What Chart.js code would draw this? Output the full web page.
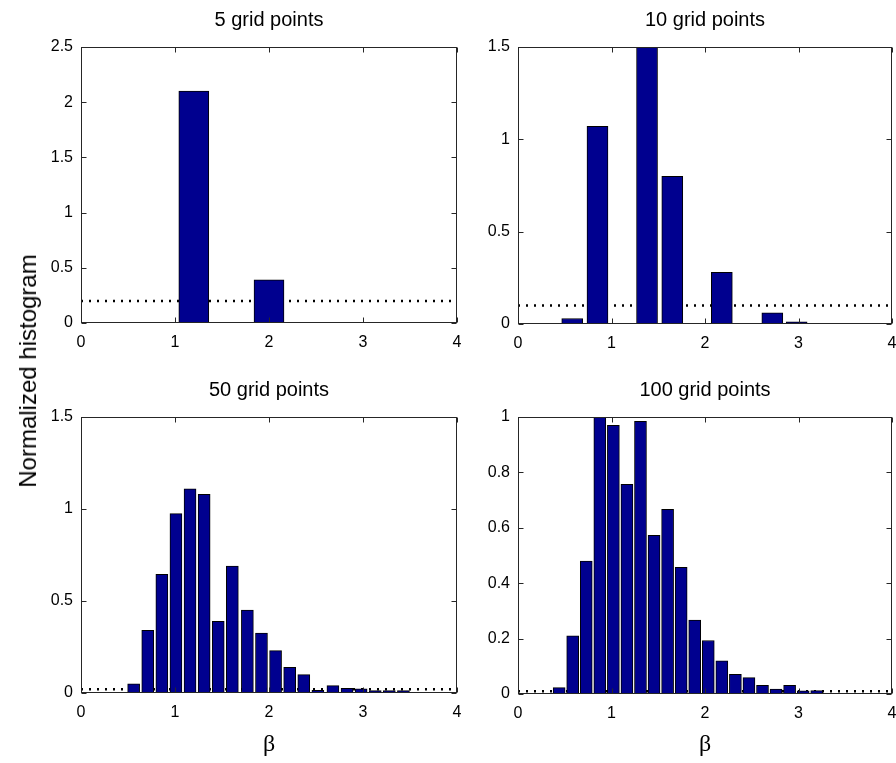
<!DOCTYPE html>
<html>
<head>
<meta charset="utf-8">
<script src="https://cdn.jsdelivr.net/npm/chart.js@4.4.1/dist/chart.umd.min.js"></script>
<style>
  html, body { margin: 0; padding: 0; background: #fff; overflow: hidden; }
  body { width: 896px; height: 763px; position: relative; }
  canvas { position: absolute; }
  #ylabel {
    position: absolute; left: 28px; top: 371px;
    transform: translate(-50%, -50%) rotate(-90deg);
    font: 24px "Liberation Sans", Arial, sans-serif; white-space: nowrap; color: #000;
  }
</style>
</head>
<body>
<canvas id="p1" width="475" height="360" style="left:0;top:0"></canvas>
<canvas id="p2" width="470" height="360" style="left:440px;top:0"></canvas>
<canvas id="p3" width="475" height="393" style="left:0;top:370px"></canvas>
<canvas id="p4" width="470" height="393" style="left:440px;top:370px"></canvas>
<div id="ylabel">Normalized histogram</div>
<script>
// histogram data
const gridSizes = [5, 10, 50, 100];
const priorLevels = [0.2, 0.1, 0.02, 0.01];   // dotted line = uniform 1/N
const betaTicks = [0, 1, 2, 3, 4];
const yMax = [2.5, 1.5, 1.5, 1];
const yStep = [0.5, 0.5, 0.5, 0.2];

const centers5 = [1.2, 2.0, 2.8];
const hist5 = [2.1, 0.39, 0.005];

const centers10 = [0.58, 0.85, 1.38, 1.65, 2.18, 2.72, 2.98];
const hist10 = [0.03, 1.07, 1.5, 0.80, 0.28, 0.06, 0.012];

const centers50 = [0.56, 0.71, 0.86, 1.01, 1.16, 1.31, 1.46, 1.61, 1.77, 1.92,
                   2.07, 2.22, 2.37, 2.52, 2.68, 2.83, 2.98, 3.13, 3.28, 3.43];
const hist50 = [0.05, 0.34, 0.645, 0.975, 1.11, 1.08, 0.39, 0.69, 0.45, 0.325,
                0.23, 0.14, 0.1, 0.015, 0.04, 0.025, 0.022, 0.013, 0.013, 0.013];

const centers100 = [0.44, 0.585, 0.73, 0.875, 1.02, 1.165, 1.31, 1.455, 1.6, 1.745,
                    1.89, 2.035, 2.18, 2.325, 2.47, 2.615, 2.76, 2.905, 3.05, 3.195];
const hist100 = [0.023, 0.21, 0.48, 1.0, 0.97, 0.757, 0.984, 0.573, 0.667, 0.457,
                 0.267, 0.193, 0.12, 0.071, 0.059, 0.031, 0.018, 0.031, 0.011, 0.012];

Chart.defaults.font.family = '"Liberation Sans", Arial, sans-serif';
Chart.defaults.font.size = 16;
Chart.defaults.color = '#000';

// matlab-like box with inward ticks on all four sides
const boxPlugin = {
  id: 'box',
  afterDatasetsDraw(chart) {
    const { ctx, chartArea: a, scales } = chart;
    const L = Math.round(a.left) + 0.5, R = Math.round(a.right) - 0.5;
    const T = Math.round(a.top) + 0.5, B = Math.round(a.bottom) - 0.5;
    ctx.save();
    ctx.strokeStyle = '#262626';
    ctx.lineWidth = 1;
    ctx.strokeRect(L, T, R - L, B - T);
    ctx.beginPath();
    scales.x.ticks.forEach(t => {
      const px = Math.round(scales.x.getPixelForValue(t.value)) + 0.5;
      ctx.moveTo(px, B); ctx.lineTo(px, B - 5);
      ctx.moveTo(px, T); ctx.lineTo(px, T + 5);
    });
    scales.y.ticks.forEach(t => {
      const py = Math.round(scales.y.getPixelForValue(t.value)) + 0.5;
      ctx.moveTo(L, py); ctx.lineTo(L + 5, py);
      ctx.moveTo(R, py); ctx.lineTo(R - 5, py);
    });
    ctx.stroke();
    ctx.restore();
  }
};

// 1.0 -> "1", 0.5 -> "0.5"
const fmt = v => String(Number(v.toFixed(2)));

function makePanel(id, idx, centers, hist, opt) {
  const bars = centers.map((c, i) => ({ x: c, y: hist[i] }));
  const prior = [{ x: betaTicks[0], y: priorLevels[idx] },
                 { x: betaTicks[betaTicks.length - 1], y: priorLevels[idx] }];
  return new Chart(document.getElementById(id), {
    type: 'bar',
    data: {
      datasets: [{
        type: 'bar',
        data: bars,
        backgroundColor: '#00008f',
        borderColor: '#000',
        borderWidth: 1,
        barThickness: opt.barW,
        order: 0
      }, {
        type: 'line',
        data: prior,
        borderColor: '#000',
        borderWidth: 2.5,
        borderDash: [2, 6],
        pointRadius: 0,
        order: 1
      }]
    },
    options: {
      responsive: false,
      animation: false,
      layout: { padding: { left: 0, right: opt.padR, top: 0, bottom: 0 } },
      plugins: {
        legend: { display: false },
        tooltip: { enabled: false },
        title: {
          display: true,
          text: gridSizes[idx] + ' grid points',
          fullSize: false,
          font: { size: 20, weight: 'normal' },
          color: '#000',
          padding: { top: 8, bottom: 15 }
        }
      },
      scales: {
        x: {
          type: 'linear',
          min: betaTicks[0],
          max: betaTicks[betaTicks.length - 1],
          offset: false,
          grid: { display: false, drawTicks: false },
          border: { display: false },
          ticks: { stepSize: 1, padding: 10, maxRotation: 0, callback: fmt },
          title: {
            display: opt.xTitle,
            text: 'β',
            font: { family: '"Liberation Serif", "Times New Roman", serif', size: 24 },
            color: '#000',
            padding: { top: 0, bottom: 4 }
          },
          afterFit: s => { s.height = opt.xH; }
        },
        y: {
          min: 0,
          max: yMax[idx],
          grid: { display: false, drawTicks: false },
          border: { display: false },
          ticks: { stepSize: yStep[idx], padding: 8, callback: fmt },
          afterFit: s => { s.width = opt.yW; }
        }
      }
    },
    plugins: [boxPlugin]
  });
}

makePanel('p1', 0, centers5, hist5, { barW: 30, yW: 81, xH: 37, padR: 18, xTitle: false });
makePanel('p2', 1, centers10, hist10, { barW: 21, yW: 78, xH: 36, padR: 18, xTitle: false });
makePanel('p3', 2, centers50, hist50, { barW: 12, yW: 81, xH: 70, padR: 18, xTitle: true });
makePanel('p4', 3, centers100, hist100, { barW: 12, yW: 78, xH: 69, padR: 18, xTitle: true });
</script>
</body>
</html>
